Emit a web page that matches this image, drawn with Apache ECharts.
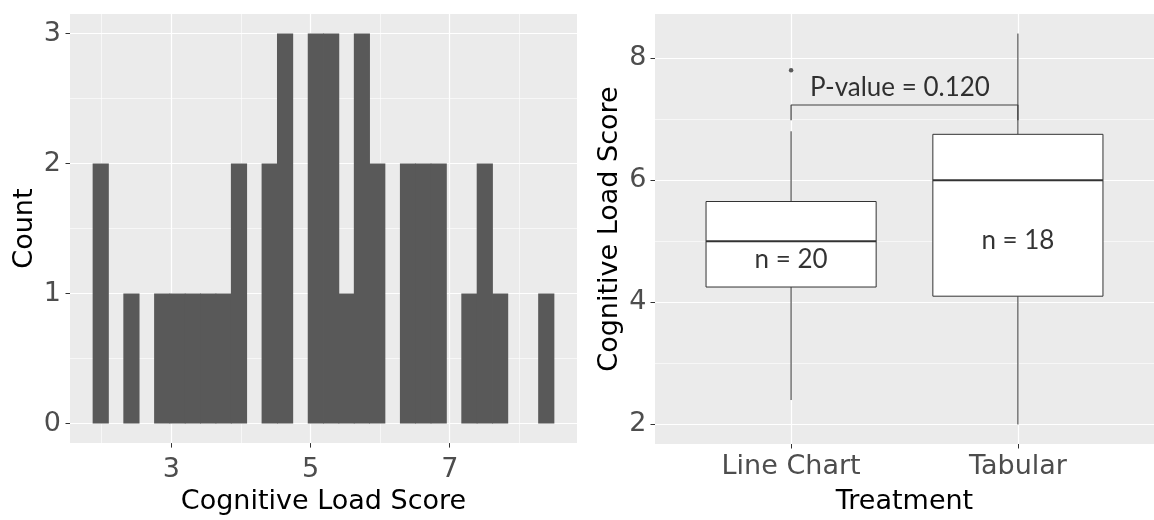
<!DOCTYPE html>
<html><head><meta charset="utf-8">
<script src="https://cdn.jsdelivr.net/npm/echarts@6/dist/echarts.min.js"></script>
<style>html,body{margin:0;padding:0;background:#fff}#c{width:1154px;height:520px}</style>
</head><body><div id="c"></div>
<script>
// ---- Histogram data (left panel) ----
const binEdges = [1.876, 2.097, 2.317, 2.538, 2.759, 2.979, 3.200, 3.421, 3.641, 3.862, 4.083,
  4.303, 4.524, 4.745, 4.966, 5.186, 5.407, 5.628, 5.848, 6.069, 6.290,
  6.510, 6.731, 6.952, 7.172, 7.393, 7.614, 7.834, 8.055, 8.276, 8.497];
const binCounts = [2, 0, 1, 0, 1, 1, 1, 1, 1, 2,
  0, 2, 3, 0, 3, 3, 1, 3, 2, 0,
  2, 2, 2, 0, 1, 2, 1, 0, 0, 1];
const histXTicks = [3, 5, 7];
const histXMinor = [2, 4, 6, 8];
const histYTicks = [0, 1, 2, 3];
const histYMinor = [0.5, 1.5, 2.5];

// ---- Boxplot data (right panel) ----
const treatments = ['Line Chart', 'Tabular'];
const whiskerLow = [2.4, 2.0];
const q1 = [4.25, 4.1];
const median = [5.0, 6.0];
const q3 = [5.65, 6.75];
const whiskerHigh = [6.8, 8.4];
const outliers = [[0, 7.8]];          // [treatment index, value]
const sampleSizes = [20, 18];
const pValue = '0.120';
const boxYTicks = [2, 4, 6, 8];
const boxYMinor = [3, 5, 7];

const TICK_FONT = {fontSize: 27, color: '#4D4D4D', fontFamily: 'DejaVu Sans'};
const TITLE_FONT = {fontSize: 27, color: '#000000', fontFamily: 'DejaVu Sans'};
const ANNOT_FONT = {fontSize: 26, color: '#000000', fontFamily: 'Lato'};

function majorAxis(extra) {
  return Object.assign({
    type: 'value',
    axisLine: {show: false, onZero: false},
    splitLine: {show: true, lineStyle: {color: '#FFFFFF', width: 1.2}}
  }, extra);
}
function minorAxis(extra, vals) {
  return Object.assign({
    type: 'value',
    axisLine: {show: false, onZero: false},
    axisTick: {show: false, customValues: vals},
    axisLabel: {show: false},
    splitLine: {show: true, lineStyle: {color: '#FFFFFF', width: 0.6}}
  }, extra);
}

const chart = echarts.init(document.getElementById('c'), null, {renderer: 'canvas'});

const histData = [];
binCounts.forEach((c, i) => { if (c > 0) histData.push([binEdges[i], binEdges[i + 1], c]); });

const boxData = treatments.map((t, i) => [i + 1, whiskerLow[i], q1[i], median[i], q3[i], whiskerHigh[i]]);

const option = {
  animation: false,
  backgroundColor: '#FFFFFF',
  grid: [
    {left: 70, top: 14, width: 507, height: 432, show: true, backgroundColor: '#EBEBEB', borderWidth: 0},
    {left: 655, top: 14, width: 507, height: 432, show: true, backgroundColor: '#EBEBEB', borderWidth: 0}
  ],
  xAxis: [
    majorAxis({gridIndex: 0, min: 1.545, max: 8.828,
      axisTick: {show: true, length: 4.5, customValues: histXTicks, lineStyle: {color: '#333333', width: 1}},
      axisLabel: Object.assign({customValues: histXTicks, margin: 13}, TICK_FONT),
      name: 'Cognitive Load Score', nameLocation: 'middle', nameGap: 44, nameTextStyle: TITLE_FONT}),
    minorAxis({gridIndex: 0, min: 1.545, max: 8.828}, histXMinor),
    majorAxis({gridIndex: 1, min: 0.4, max: 2.6,
      axisTick: {show: true, length: 4.5, customValues: [1, 2], lineStyle: {color: '#333333', width: 1}},
      axisLabel: Object.assign({customValues: [1, 2], margin: 9, formatter: v => treatments[Math.round(v) - 1]}, TICK_FONT),
      name: 'Treatment', nameLocation: 'middle', nameGap: 44, nameTextStyle: TITLE_FONT})
  ],
  yAxis: [
    majorAxis({gridIndex: 0, min: -0.15, max: 3.15,
      axisTick: {show: true, length: 4.5, customValues: histYTicks, lineStyle: {color: '#333333', width: 1}},
      axisLabel: Object.assign({customValues: histYTicks, margin: 9}, TICK_FONT),
      name: 'Count', nameLocation: 'middle', nameGap: 32, nameTextStyle: TITLE_FONT}),
    minorAxis({gridIndex: 0, min: -0.15, max: 3.15}, histYMinor),
    majorAxis({gridIndex: 1, min: 1.68, max: 8.72,
      axisTick: {show: true, length: 4.5, customValues: boxYTicks, lineStyle: {color: '#333333', width: 1}},
      axisLabel: Object.assign({customValues: boxYTicks, margin: 8.5}, TICK_FONT),
      name: 'Cognitive Load Score', nameLocation: 'middle', nameGap: 32, nameTextStyle: TITLE_FONT}),
    minorAxis({gridIndex: 1, min: 1.68, max: 8.72}, boxYMinor)
  ],
  series: [
    {
      type: 'custom', name: 'histogram', xAxisIndex: 0, yAxisIndex: 0, z: 2,
      encode: {x: [0, 1], y: 2},
      data: histData,
      renderItem: function (params, api) {
        const p0 = api.coord([api.value(0), api.value(2)]);
        const p1 = api.coord([api.value(1), 0]);
        // slight overlap so adjacent bins merge without anti-aliasing seams
        return {type: 'rect', shape: {x: p0[0] - 0.4, y: p0[1], width: p1[0] - p0[0] + 0.8, height: p1[1] - p0[1]},
          style: {fill: '#595959', stroke: null, lineWidth: 0}};
      }
    },
    {
      type: 'custom', name: 'boxplot', xAxisIndex: 2, yAxisIndex: 2, z: 2,
      encode: {x: 0, y: [1, 2, 3, 4, 5]},
      data: boxData,
      renderItem: function (params, api) {
        const x = api.value(0);
        const half = api.size([0.75, 0])[0] / 2;
        const cLow = api.coord([x, api.value(1)]);
        const cQ1 = api.coord([x, api.value(2)]);
        const cMed = api.coord([x, api.value(3)]);
        const cQ3 = api.coord([x, api.value(4)]);
        const cHigh = api.coord([x, api.value(5)]);
        const line = {stroke: '#333333', lineWidth: 1};
        return {type: 'group', children: [
          {type: 'line', shape: {x1: cLow[0], y1: cLow[1], x2: cQ1[0], y2: cQ1[1]}, style: line},
          {type: 'line', shape: {x1: cQ3[0], y1: cQ3[1], x2: cHigh[0], y2: cHigh[1]}, style: line},
          {type: 'rect', shape: {x: cQ3[0] - half, y: cQ3[1], width: 2 * half, height: cQ1[1] - cQ3[1]},
            style: {fill: '#FFFFFF', stroke: '#333333', lineWidth: 1}},
          {type: 'line', shape: {x1: cMed[0] - half, y1: cMed[1], x2: cMed[0] + half, y2: cMed[1]},
            style: {stroke: '#333333', lineWidth: 2}}
        ]};
      }
    },
    {
      type: 'scatter', name: 'outliers', xAxisIndex: 2, yAxisIndex: 2, z: 3,
      data: outliers.map(o => [o[0] + 1, o[1]]),
      symbol: 'circle', symbolSize: 4.5, itemStyle: {color: '#333333'}
    },
    {
      type: 'line', name: 'bracket', xAxisIndex: 2, yAxisIndex: 2, z: 3,
      data: [[1, 6.98], [1, 7.23], [2, 7.23], [2, 6.98]],
      symbol: 'none', lineStyle: {color: '#404040', width: 1.2}
    },
    {
      type: 'scatter', name: 'annotations', xAxisIndex: 2, yAxisIndex: 2, z: 4,
      symbolSize: 0,
      data: [
        {name: 'P-value = ' + pValue, value: [1.48, 7.52]},
        {name: 'n = ' + sampleSizes[0], value: [1, 4.70]},
        {name: 'n = ' + sampleSizes[1], value: [2, 5.01]}
      ],
      label: Object.assign({show: true, position: 'inside', formatter: '{b}'}, ANNOT_FONT)
    }
  ]
};
chart.setOption(option);
</script>
</body></html>
